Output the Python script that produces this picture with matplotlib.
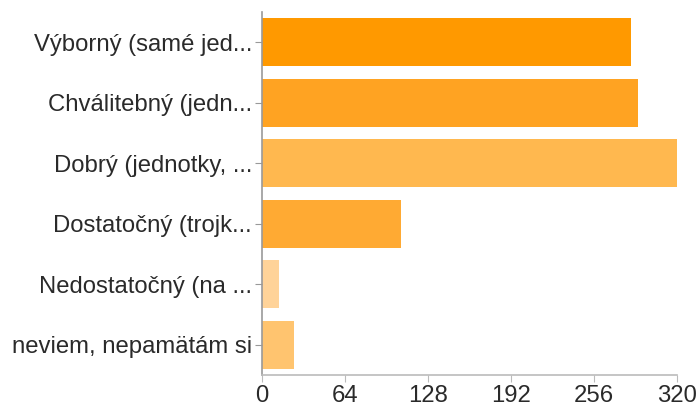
import matplotlib
matplotlib.use("Agg")
import matplotlib.pyplot as plt

categories = ["Výborný (samé jed...", "Chválitebný (jedn...", "Dobrý (jednotky, ...",
              "Dostatočný (trojk...", "Nedostatočný (na ...", "neviem, nepamätám si"]
values = [285, 290, 320, 107, 13, 25]
colors = ["#FF9900", "#FFA322", "#FFB84F", "#FFAA33", "#FFD399", "#FFC46F"]
xticks = [0, 64, 128, 192, 256, 320]

plt.rcParams['font.family'] = ['Liberation Sans', 'DejaVu Sans']

fig = plt.figure(figsize=(6.98, 4.08), dpi=100)
ax = fig.add_axes([0.375, 0.081, 0.9695 - 0.375, 0.9706 - 0.081])

y = list(range(len(categories)))
ax.barh(y, values, height=0.8, color=colors, edgecolor="none")
ax.set_ylim(len(categories) - 0.5, -0.5)
ax.set_xlim(0, 320)
ax.set_xticks(xticks)
ax.set_xticklabels([str(t) for t in xticks])
ax.set_yticks(y)
ax.set_yticklabels(categories)

for s in ["top", "right"]:
    ax.spines[s].set_visible(False)
ax.spines["left"].set_color("#999999")
ax.spines["bottom"].set_color("#bbbbbb")
ax.spines["left"].set_linewidth(1.2)
ax.spines["bottom"].set_linewidth(1.2)
ax.tick_params(axis="y", length=5, color="#999999", labelsize=17.2, labelcolor="#2a2a2a", pad=2)
ax.tick_params(axis="x", length=5, color="#bbbbbb", labelsize=17.2, labelcolor="#2a2a2a", pad=2)

fig.savefig("out.png", dpi=100)
